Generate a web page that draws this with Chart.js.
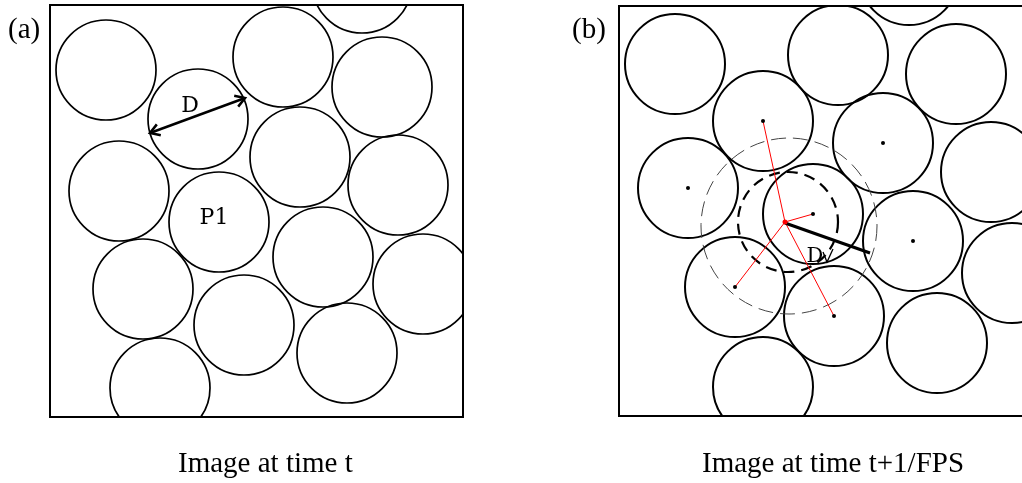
<!DOCTYPE html>
<html>
<head>
<meta charset="utf-8">
<script src="https://cdn.jsdelivr.net/npm/chart.js@4.4.0/dist/chart.umd.min.js"></script>
<style>
  html, body { margin: 0; padding: 0; background: #fff; overflow: hidden; width: 1022px; height: 483px; }
  canvas { position: absolute; top: 0; }
  #chartA { left: 0; }
  #chartB { left: 511px; }
</style>
</head>
<body>
<canvas id="chartA" width="511" height="483"></canvas>
<canvas id="chartB" width="530" height="483"></canvas>
<script>
// particle radius (D/2), in image pixels
const particleR = 50;

// (a) particle centres at time t
const aX = [56, 148, 233, 312, 332, 250, 348, 69, 169, 273, 373, 93, 194, 297, 110];
const aY = [65, 114, 52, -22, 82, 152, 180, 186, 217, 252, 279, 284, 320, 348, 383];

// (b) particle centres at time t+1/FPS
const bX = [56, 219, 290, 337, 144, 264, 372, 69, 194, 294, 393, 116, 215, 318, 144];
const bY = [58, 49, -31, 68, 115, 137, 166, 182, 208, 235, 267, 281, 310, 337, 381];

// which particles in (b) carry a centre dot, and which are linked to P1
const dotIdx = [4, 5, 7, 8, 9, 11, 12];
const linkIdx = [4, 8, 11, 12];

// old position of P1 and the search rings around it
const p1Old = [166, 216];
const ringX = [169, 170];
const ringY = [216, 220];
const ringR = [50, 88];

// annotation lines
const arrowD = [[100, 128], [195, 93]];
const lineD = [[166, 217], [251, 247]];

const serif = '"Liberation Serif", "Times New Roman", serif';
const labelFont = '"DejaVu Serif", serif';

// -------------------------------------------------------------------
// helpers
// -------------------------------------------------------------------
function circles(xs, ys, width) {
  return {
    type: 'bubble',
    data: xs.map((x, i) => ({ x: x, y: ys[i], r: particleR })),
    backgroundColor: 'rgba(0,0,0,0)',
    borderColor: '#000',
    borderWidth: width,
    clip: 0,
    order: 5
  };
}

function segment(p, q, color, width, order) {
  return {
    type: 'scatter',
    showLine: true,
    data: [{ x: p[0], y: p[1] }, { x: q[0], y: q[1] }],
    borderColor: color,
    borderWidth: width,
    pointRadius: 0,
    clip: 0,
    order: order
  };
}

function arrowHead(ctx, x1, y1, x2, y2, len) {
  const ang = Math.atan2(y2 - y1, x2 - x1);
  ctx.beginPath();
  ctx.moveTo(x2 - len * Math.cos(ang - 0.55), y2 - len * Math.sin(ang - 0.55));
  ctx.lineTo(x2, y2);
  ctx.lineTo(x2 - len * Math.cos(ang + 0.55), y2 - len * Math.sin(ang + 0.55));
  ctx.stroke();
}

// dashed rings: Chart.js points have no dash option, so set it around the dataset draw
const dashPlugin = {
  id: 'dashPlugin',
  beforeDatasetDraw(chart, args) {
    const ds = chart.data.datasets[args.index];
    if (ds.dash) chart.ctx.setLineDash(ds.dash);
  },
  afterDatasetDraw(chart) {
    chart.ctx.setLineDash([]);
  }
};

// frame, panel tag, caption and small labels
const panelDecor = {
  id: 'panelDecor',
  afterDatasetsDraw(chart, args, opts) {
    const { ctx, chartArea: a, scales: { x, y } } = chart;
    ctx.save();
    ctx.strokeStyle = '#000';
    ctx.lineWidth = 2;
    ctx.strokeRect(a.left, a.top, a.right - a.left, a.bottom - a.top);

    if (opts.arrow) {
      const p = opts.arrow;
      const x1 = x.getPixelForValue(p[0][0]), y1 = y.getPixelForValue(p[0][1]);
      const x2 = x.getPixelForValue(p[1][0]), y2 = y.getPixelForValue(p[1][1]);
      ctx.lineWidth = 2.5;
      arrowHead(ctx, x1, y1, x2, y2, 11);
      arrowHead(ctx, x2, y2, x1, y1, 11);
    }

    if (opts.tick) {
      ctx.lineWidth = 1.3;
      ctx.beginPath();
      opts.tick.forEach((pt, i) => {
        const px = x.getPixelForValue(pt[0]), py = y.getPixelForValue(pt[1]);
        if (i === 0) ctx.moveTo(px, py); else ctx.lineTo(px, py);
      });
      ctx.stroke();
    }

    ctx.fillStyle = '#000';
    ctx.textBaseline = 'alphabetic';
    ctx.textAlign = 'center';
    (opts.labels || []).forEach(l => {
      ctx.font = l.size + 'px ' + labelFont;
      ctx.fillText(l.text, x.getPixelForValue(l.x), y.getPixelForValue(l.y));
    });

    ctx.textAlign = 'left';
    ctx.font = '29px ' + serif;
    ctx.fillText(opts.tag, opts.tagX, 38);
    ctx.fillText(opts.caption, opts.capX, 472);
    ctx.restore();
  }
};

function baseOptions(padding, yMax, decor) {
  return {
    responsive: false,
    animation: false,
    events: [],
    layout: { padding: padding, autoPadding: false },
    scales: {
      x: { type: 'linear', display: false, min: 0, max: 413 },
      y: { type: 'linear', display: false, reverse: true, min: 0, max: yMax }
    },
    plugins: {
      legend: { display: false },
      tooltip: { enabled: false },
      panelDecor: decor
    }
  };
}

// ===================================================================
// (a) Image at time t
// ===================================================================
const chartA = new Chart(document.getElementById('chartA'), {
  type: 'bubble',
  data: {
    datasets: [
      circles(aX, aY, 1.7),
      segment(arrowD[0], arrowD[1], '#000', 2.5, 1)
    ]
  },
  options: baseOptions({ left: 50, top: 5, right: 48, bottom: 66 }, 412, {
    tag: '(a)', tagX: 8,
    caption: 'Image at time t', capX: 178,
    arrow: arrowD,
    labels: [
      { text: 'D', x: 140, y: 107, size: 22 },
      { text: 'P1', x: 164, y: 219, size: 22 }
    ]
  }),
  plugins: [dashPlugin, panelDecor]
});

// ===================================================================
// (b) Image at time t+1/FPS
// ===================================================================
const linkSets = linkIdx.map(i => segment(p1Old, [bX[i], bY[i]], '#ff0000', 1, 2));

const chartB = new Chart(document.getElementById('chartB'), {
  type: 'bubble',
  data: {
    datasets: [
      circles(bX, bY, 2),
      {
        type: 'bubble',
        data: [{ x: ringX[0], y: ringY[0], r: ringR[0] }],
        backgroundColor: 'rgba(0,0,0,0)',
        borderColor: '#000',
        borderWidth: 2.2,
        dash: [11, 7],
        clip: 0,
        order: 4
      },
      {
        type: 'bubble',
        data: [{ x: ringX[1], y: ringY[1], r: ringR[1] }],
        backgroundColor: 'rgba(0,0,0,0)',
        borderColor: '#444',
        borderWidth: 1,
        dash: [15, 7],
        clip: 0,
        order: 4
      },
      ...linkSets,
      segment(lineD[0], lineD[1], '#000', 3, 1),
      {
        type: 'scatter',
        data: dotIdx.map(i => ({ x: bX[i], y: bY[i] })),
        pointRadius: 2,
        backgroundColor: '#000',
        borderWidth: 0,
        order: 0
      },
      {
        type: 'scatter',
        data: [{ x: p1Old[0], y: p1Old[1] }],
        pointRadius: 2.5,
        backgroundColor: '#ff0000',
        borderWidth: 0,
        order: 0
      }
    ]
  },
  options: baseOptions({ left: 108, top: 6, right: 9, bottom: 67 }, 410, {
    tag: '(b)', tagX: 61,
    caption: 'Image at time t+1/FPS', capX: 191,
    tick: [[204, 246], [208, 256], [214, 243]],
    labels: [
      { text: 'D', x: 196, y: 256, size: 21 }
    ]
  }),
  plugins: [dashPlugin, panelDecor]
});
</script>
</body>
</html>
